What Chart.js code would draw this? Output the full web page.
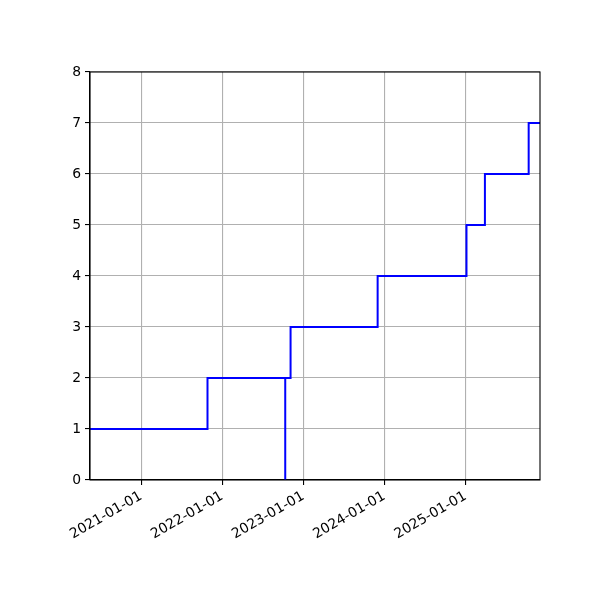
<!DOCTYPE html>
<html>
<head>
<meta charset="utf-8">
<script src="https://cdn.jsdelivr.net/npm/chart.js@4/dist/chart.umd.min.js"></script>
<style>
  html, body { margin: 0; padding: 0; background: #fff; }
  canvas { display: block; }
</style>
</head>
<body>
<canvas id="stepChart" width="600" height="600"></canvas>
<script>
// step points, in drawing order (the drop to 0 and back is in the source)
const stepDates = ['2020-05-16', '2021-10-27', '2022-10-12', '2022-10-12', '2022-11-05',
                   '2023-12-02', '2025-01-05', '2025-03-29', '2025-10-12', '2025-12-02'];
const stepValues = [1, 2, 0, 2, 3, 4, 5, 6, 7, 7];
const xTickLabels = ['2021-01-01', '2022-01-01', '2023-01-01', '2024-01-01', '2025-01-01'];
const xRange = ['2020-05-16', '2025-12-02'];
const yTicks = [0, 1, 2, 3, 4, 5, 6, 7, 8];

const toMs = s => Date.parse(s);
const points = stepDates.map((d, i) => ({ x: toMs(d), y: stepValues[i] }));
const xTickValues = xTickLabels.map(toMs);

const font = { family: 'DejaVu Sans', size: 13.9 };

// matplotlib-ish frame round the plot area
const framePlugin = {
    id: 'frame',
    afterDraw(chart) {
        const a = chart.chartArea, ctx = chart.ctx;
        ctx.save();
        ctx.strokeStyle = '#000';
        ctx.lineWidth = 1.1;
        ctx.strokeRect(a.left, a.top, a.right - a.left, a.bottom - a.top);
        ctx.restore();
    }
};

const ctx = document.getElementById('stepChart').getContext('2d');
const chart = new Chart(ctx, {
    type: 'line',
    data: {
        datasets: [{
            data: points,
            stepped: 'before',
            borderColor: '#0000ff',
            borderWidth: 2,
            pointRadius: 0,
            fill: false
        }]
    },
    options: {
        responsive: false,
        devicePixelRatio: 1,
        animation: false,
        layout: { padding: { top: 72, right: 60, left: 0, bottom: 0 } },
        plugins: { legend: { display: false }, tooltip: { enabled: false } },
        scales: {
            x: {
                type: 'linear',
                min: toMs(xRange[0]),
                max: toMs(xRange[1]),
                afterBuildTicks: axis => { axis.ticks = xTickValues.map(v => ({ value: v })); },
                afterFit: axis => { axis.height = 120; },
                grid: { color: '#b0b0b0', lineWidth: 1.1, tickColor: '#000', tickLength: 5 },
                border: { color: '#000', width: 1.1 },
                ticks: {
                    color: '#000',
                    font: font,
                    padding: 3,
                    minRotation: 30,
                    maxRotation: 30,
                    autoSkip: false,
                    callback: v => {
                        const i = xTickValues.indexOf(v);
                        return i >= 0 ? xTickLabels[i] : '';
                    }
                }
            },
            y: {
                min: yTicks[0],
                max: yTicks[yTicks.length - 1],
                afterBuildTicks: axis => { axis.ticks = yTicks.map(v => ({ value: v })); },
                afterFit: axis => { axis.width = 90; },
                grid: { color: '#b0b0b0', lineWidth: 1.1, tickColor: '#000', tickLength: 5 },
                border: { color: '#000', width: 1.1 },
                ticks: { color: '#000', font: font, padding: 4 }
            }
        }
    },
    plugins: [framePlugin]
});
</script>
</body>
</html>
